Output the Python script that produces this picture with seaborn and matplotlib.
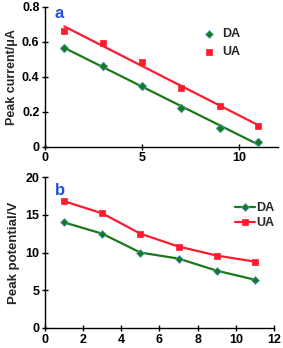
import numpy as np
import matplotlib.pyplot as plt
import seaborn as sns

sns.set_style("white")
plt.rcParams['font.family'] = ['Liberation Sans', 'DejaVu Sans']
plt.rcParams['font.weight'] = 'bold'

x = [1, 3, 5, 7, 9, 11]
da_current = [0.565, 0.46, 0.35, 0.225, 0.11, 0.025]
ua_current = [0.665, 0.595, 0.485, 0.335, 0.235, 0.12]
da_potential = [14.0, 12.5, 10.0, 9.2, 7.6, 6.4]
ua_potential = [16.8, 15.2, 12.5, 10.8, 9.6, 8.8]

green = '#1a7a1a'
red = '#ff1a2e'
edge_blue = '#5a9ae6'

fig = plt.figure(figsize=(2.83, 3.48), dpi=100)
ax1 = fig.add_axes([0.159, 0.578, 0.823, 0.402])
ax2 = fig.add_axes([0.159, 0.0575, 0.809, 0.4335])

# panel a: points with linear trendlines
xs = np.array(x)
for vals, col, mk, lab in [(da_current, green, 'D', 'DA'), (ua_current, red, 's', 'UA')]:
    k, b = np.polyfit(xs, vals, 1)
    ax1.plot(xs, k * xs + b, color=col, lw=1.6)
    ec = edge_blue if mk == 'D' else col
    sns.scatterplot(x=x, y=vals, ax=ax1, marker=mk, color=col, edgecolor=ec,
                    linewidth=0.5, s=20, label=lab, zorder=3)
ax1.set_xlim(0, 12)
ax1.set_ylim(0, 0.8)
ax1.set_xticks([0, 5, 10])
ax1.set_yticks([0, 0.2, 0.4, 0.6, 0.8])
ax1.set_yticklabels(['0', '0.2', '0.4', '0.6', '0.8'])
ax1.set_ylabel('Peak current/μA', fontsize=9, fontweight='bold', labelpad=3)
ax1.text(0.5, 0.735, 'a', color='#1f4fe0', fontsize=12, fontweight='bold')
ax1.legend(loc='upper right', bbox_to_anchor=(0.875, 0.91), frameon=False,
           fontsize=9, handletextpad=0.0, markerscale=0.9, labelspacing=0.45,
           borderpad=0.2)

# panel b: connected lines
for vals, col, mk, lab in [(da_potential, green, 'D', 'DA'), (ua_potential, red, 's', 'UA')]:
    ec = edge_blue if mk == 'D' else col
    sns.lineplot(x=x, y=vals, ax=ax2, color=col, marker=mk, markersize=4.5,
                 markeredgecolor=ec, markeredgewidth=0.5, lw=1.6, label=lab)
ax2.set_xlim(0, 12)
ax2.set_ylim(0, 20)
ax2.set_xticks(range(0, 13, 2))
ax2.set_yticks([0, 5, 10, 15, 20])
ax2.set_ylabel('Peak potential/V', fontsize=9.5, fontweight='bold', labelpad=4)
ax2.text(0.5, 17.6, 'b', color='#1f4fe0', fontsize=12, fontweight='bold')
ax2.legend(loc='upper right', bbox_to_anchor=(1.04, 0.89), frameon=False,
           fontsize=9, handlelength=1.6, handletextpad=0.1, labelspacing=0.2,
           borderpad=0.2)

for ax in (ax1, ax2):
    sns.despine(ax=ax)
    ax.spines['left'].set_color('black')
    ax.spines['bottom'].set_color('black')
    ax.spines['left'].set_linewidth(1.0)
    ax.spines['bottom'].set_linewidth(1.0)
    ax.tick_params(direction='inout', length=4, width=1, labelsize=9, pad=2,
                   left=True, bottom=True, colors='black')
    ax.set_xlabel('')
    for t in ax.get_xticklabels() + ax.get_yticklabels():
        t.set_fontweight('bold')

fig.savefig('out.png', dpi=100)
